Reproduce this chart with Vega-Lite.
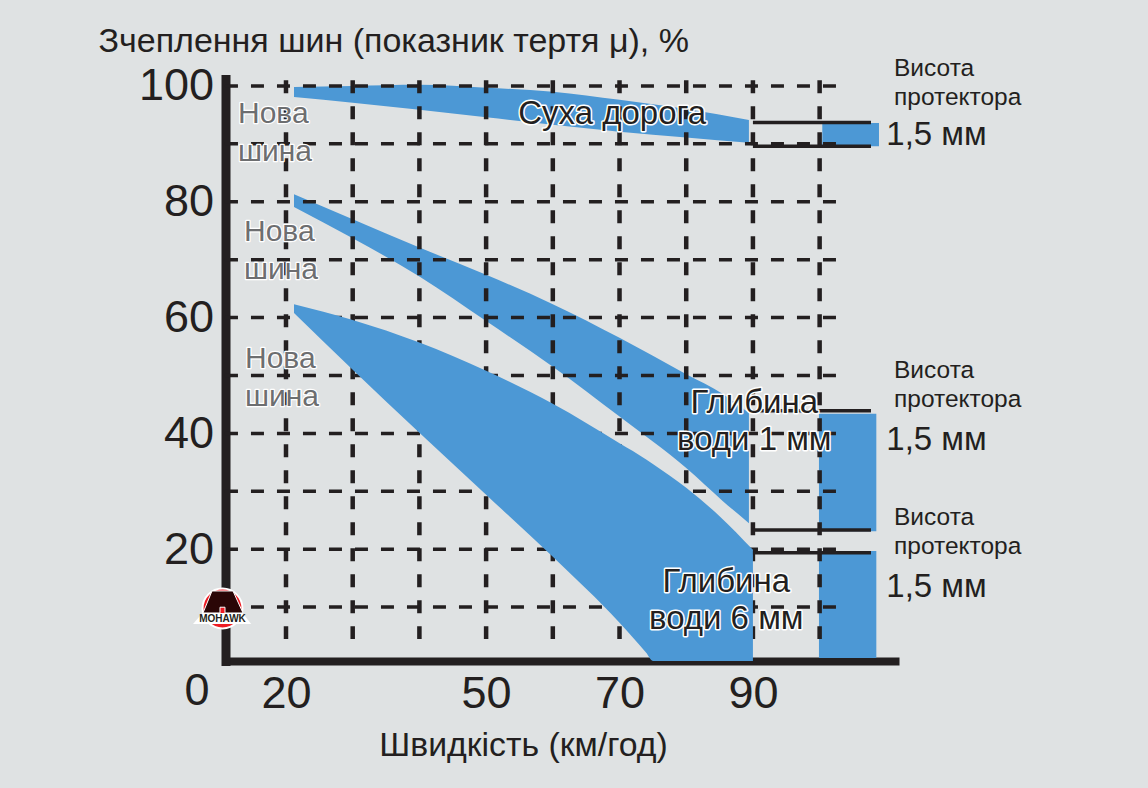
{
  "$schema": "https://vega.github.io/schema/vega-lite/v6.json",
  "width": 669.5,
  "height": 582,
  "autosize": "none",
  "padding": {"left": 225.5, "top": 79, "right": 253, "bottom": 127},
  "background": "#dfe2e3",
  "config": {
    "view": {"stroke": null},
    "font": "Liberation Sans",
    "text": {"font": "Liberation Sans"}
  },
  "datasets": {
    "bandTop": [
      {"speed": 21.2, "grip": 99.8, "gripLow": 98.1},
      {"speed": 30, "grip": 100, "gripLow": 97.1},
      {"speed": 40, "grip": 100.2, "gripLow": 95.9},
      {"speed": 50, "grip": 99.7, "gripLow": 94.6},
      {"speed": 60, "grip": 99, "gripLow": 93.3},
      {"speed": 70, "grip": 97.6, "gripLow": 92.1},
      {"speed": 80, "grip": 96, "gripLow": 91.1},
      {"speed": 89.4, "grip": 94.1, "gripLow": 90.2}
    ],
    "bandMid": [
      {"speed": 21.2, "grip": 81.3, "gripLow": 79.1},
      {"speed": 30, "grip": 77, "gripLow": 73.7},
      {"speed": 40, "grip": 72.1, "gripLow": 67.1},
      {"speed": 50, "grip": 67.4, "gripLow": 59.4},
      {"speed": 60, "grip": 62.3, "gripLow": 51.5},
      {"speed": 70, "grip": 56.5, "gripLow": 42.9},
      {"speed": 80, "grip": 50.2, "gripLow": 34},
      {"speed": 85.5, "grip": 46.8, "gripLow": 28.3},
      {"speed": 89.4, "grip": 43.5, "gripLow": 24.5}
    ],
    "bandLow": [
      {"speed": 21.2, "grip": 62.3, "gripLow": 60.8},
      {"speed": 30, "grip": 59.6, "gripLow": 51},
      {"speed": 40, "grip": 55.7, "gripLow": 40.1},
      {"speed": 50, "grip": 50.8, "gripLow": 29.4},
      {"speed": 60, "grip": 45.1, "gripLow": 18.7},
      {"speed": 70, "grip": 38.3, "gripLow": 7.3},
      {"speed": 74, "grip": 35.5, "gripLow": 2.1},
      {"speed": 75, "grip": 34.7, "gripLow": 0.7},
      {"speed": 80, "grip": 30.6, "gripLow": 0.7},
      {"speed": 85, "grip": 25.7, "gripLow": 0.7},
      {"speed": 90, "grip": 19.9, "gripLow": 0.7}
    ],
    "treadBars": [
      {"speed": 100.4, "speedEnd": 108.9, "grip": 93.6, "gripLow": 89.6},
      {"speed": 99.9, "speedEnd": 108.5, "grip": 43.4, "gripLow": 23.1},
      {"speed": 99.9, "speedEnd": 108.5, "grip": 19.7, "gripLow": 1.2}
    ],
    "gridV": [
      {"speed": 20, "grip": 101, "gripLow": 4.5},
      {"speed": 30, "grip": 101, "gripLow": 4.5},
      {"speed": 40, "grip": 101, "gripLow": 4.5},
      {"speed": 50, "grip": 101, "gripLow": 4.5},
      {"speed": 60, "grip": 101, "gripLow": 4.5},
      {"speed": 70, "grip": 101, "gripLow": 4.5},
      {"speed": 80, "grip": 101, "gripLow": 4.5},
      {"speed": 90, "grip": 101, "gripLow": 4.5},
      {"speed": 100, "grip": 101, "gripLow": 4.5}
    ],
    "gridH": [
      {"grip": 100, "speed": 10.85, "speedEnd": 102.5},
      {"grip": 90, "speed": 10.85, "speedEnd": 102.5},
      {"grip": 80, "speed": 10.85, "speedEnd": 102.5},
      {"grip": 70, "speed": 10.85, "speedEnd": 102.5},
      {"grip": 60, "speed": 10.85, "speedEnd": 102.5},
      {"grip": 50, "speed": 10.85, "speedEnd": 102.5},
      {"grip": 40, "speed": 10.85, "speedEnd": 102.5},
      {"grip": 30, "speed": 10.85, "speedEnd": 102.5},
      {"grip": 20, "speed": 10.85, "speedEnd": 102.5},
      {"grip": 10, "speed": 10.85, "speedEnd": 102.5}
    ],
    "treadRules": [
      {"grip": 93.7, "speed": 90, "speedEnd": 107.7},
      {"grip": 89.6, "speed": 90, "speedEnd": 107.7},
      {"grip": 43.9, "speed": 90, "speedEnd": 107.7},
      {"grip": 23.3, "speed": 90, "speedEnd": 107.7},
      {"grip": 19.4, "speed": 90, "speedEnd": 107.7}
    ],
    "newTyre": [
      {"speed": 12.8, "grip": 95.1, "label": "Нова"},
      {"speed": 12.8, "grip": 88.6, "label": "шина"},
      {"speed": 13.7, "grip": 74.8, "label": "Нова"},
      {"speed": 13.7, "grip": 68.2, "label": "шина"},
      {"speed": 13.85, "grip": 52.8, "label": "Нова"},
      {"speed": 13.85, "grip": 46.3, "label": "шина"}
    ],
    "conditions": [
      {"speed": 68.9, "grip": 95.1, "label": "Суха дорога"},
      {"speed": 90.2, "grip": 45.2, "label": "Глибина"},
      {"speed": 90.2, "grip": 38.8, "label": "води 1 мм"},
      {"speed": 86, "grip": 14.3, "label": "Глибина"},
      {"speed": 86, "grip": 7.9, "label": "води 6 мм"}
    ],
    "treadCaption": [
      {"speed": 111.15, "grip": 103, "label": "Висота"},
      {"speed": 111.15, "grip": 98, "label": "протектора"},
      {"speed": 111.15, "grip": 50.7, "label": "Висота"},
      {"speed": 111.15, "grip": 45.7, "label": "протектора"},
      {"speed": 111.15, "grip": 25.3, "label": "Висота"},
      {"speed": 111.15, "grip": 20.3, "label": "протектора"}
    ],
    "treadValue": [
      {"speed": 110, "grip": 91.5, "label": "1,5 мм"},
      {"speed": 110, "grip": 38.8, "label": "1,5 мм"},
      {"speed": 110, "grip": 13.4, "label": "1,5 мм"}
    ],
    "zero": [{"speed": 6.66, "grip": -4.5, "label": "0"}],
    "logo": [{"speed": 10.48, "grip": 9.76}],
    "logoText": [{"speed": 10.48, "grip": 7.9, "label": "MOHAWK"}]
  },
  "encoding": {
    "x": {
      "field": "speed",
      "type": "quantitative",
      "scale": {"domain": [10.93, 111.3], "nice": false, "zero": false},
      "axis": {
        "values": [20, 50, 70, 90],
        "title": "Швидкість (км/год)",
        "titleFont": "Liberation Sans",
        "titleFontSize": 33.8,
        "titleFontWeight": "normal",
        "titleColor": "#231f20",
        "titleX": 297.5,
        "titleY": 84,
        "titleBaseline": "middle",
        "titleAnchor": null,
        "labelFont": "Liberation Sans",
        "labelFontSize": 45,
        "labelColor": "#231f20",
        "labelPadding": 10,
        "labelFlush": false,
        "labelOverlap": false,
        "labelBound": false,
        "ticks": false,
        "grid": false,
        "domainColor": "#231f20",
        "domainWidth": 8,
        "domainCap": "square"
      }
    },
    "y": {
      "field": "grip",
      "type": "quantitative",
      "scale": {"domain": [0.69, 101.2], "nice": false, "zero": false},
      "axis": {
        "values": [20, 40, 60, 80, 100],
        "title": "Зчеплення шин (показник тертя μ), %",
        "titleFont": "Liberation Sans",
        "titleFontSize": 34,
        "titleFontWeight": "normal",
        "titleColor": "#231f20",
        "titleAngle": 0,
        "titleAlign": "left",
        "titleBaseline": "alphabetic",
        "titleAnchor": null,
        "titleX": -127.5,
        "titleY": -28,
        "labelFont": "Liberation Sans",
        "labelFontSize": 45,
        "labelColor": "#231f20",
        "labelPadding": 12,
        "labelFlush": false,
        "labelOverlap": false,
        "labelBound": false,
        "ticks": false,
        "grid": false,
        "domainColor": "#231f20",
        "domainWidth": 9,
        "domainCap": "square"
      }
    }
  },
  "layer": [
    {
      "data": {"name": "bandTop"},
      "mark": {"type": "area", "color": "#4c98d5", "interpolate": "monotone"},
      "encoding": {"y2": {"field": "gripLow"}}
    },
    {
      "data": {"name": "bandMid"},
      "mark": {"type": "area", "color": "#4c98d5", "interpolate": "monotone"},
      "encoding": {"y2": {"field": "gripLow"}}
    },
    {
      "data": {"name": "treadBars"},
      "mark": {"type": "rect", "color": "#4c98d5"},
      "encoding": {"x2": {"field": "speedEnd"}, "y2": {"field": "gripLow"}}
    },
    {
      "data": {"name": "gridV"},
      "mark": {"type": "rule", "color": "#231f20", "strokeWidth": 4.5, "strokeDash": [13, 13]},
      "encoding": {"y2": {"field": "gripLow"}}
    },
    {
      "data": {"name": "gridH"},
      "mark": {"type": "rule", "color": "#231f20", "strokeWidth": 3.5, "strokeDash": [13, 13]},
      "encoding": {"x2": {"field": "speedEnd"}}
    },
    {
      "data": {"name": "bandLow"},
      "mark": {"type": "area", "color": "#4c98d5", "interpolate": "monotone"},
      "encoding": {"y2": {"field": "gripLow"}}
    },
    {
      "data": {"name": "treadRules"},
      "mark": {"type": "rule", "color": "#231f20", "strokeWidth": 3.5},
      "encoding": {"x2": {"field": "speedEnd"}}
    },
    {
      "data": {"name": "newTyre"},
      "mark": {"type": "text", "align": "left", "baseline": "middle", "fontSize": 30, "stroke": "white", "strokeWidth": 2.5, "strokeJoin": "round", "fill": "white"},
      "encoding": {"text": {"field": "label"}}
    },
    {
      "data": {"name": "newTyre"},
      "mark": {"type": "text", "align": "left", "baseline": "middle", "fontSize": 30, "fill": "#6d6e70"},
      "encoding": {"text": {"field": "label"}}
    },
    {
      "data": {"name": "conditions"},
      "mark": {"type": "text", "align": "center", "baseline": "middle", "fontSize": 33, "stroke": "white", "strokeWidth": 3, "strokeJoin": "round", "fill": "white"},
      "encoding": {"text": {"field": "label"}}
    },
    {
      "data": {"name": "conditions"},
      "mark": {"type": "text", "align": "center", "baseline": "middle", "fontSize": 33, "fill": "#231f20"},
      "encoding": {"text": {"field": "label"}}
    },
    {
      "data": {"name": "treadCaption"},
      "mark": {"type": "text", "align": "left", "baseline": "middle", "fontSize": 24.5, "fill": "#231f20"},
      "encoding": {"text": {"field": "label"}}
    },
    {
      "data": {"name": "treadValue"},
      "mark": {"type": "text", "align": "left", "baseline": "middle", "fontSize": 33, "fill": "#231f20"},
      "encoding": {"text": {"field": "label"}}
    },
    {
      "data": {"name": "zero"},
      "mark": {"type": "text", "align": "center", "baseline": "middle", "fontSize": 45, "fill": "#231f20"},
      "encoding": {"text": {"field": "label"}}
    },
    {
      "data": {"name": "logo"},
      "mark": {"type": "point", "shape": "circle", "filled": true, "fill": "#ed1c24", "stroke": "white", "strokeWidth": 2, "opacity": 1, "size": 1590}
    },
    {
      "data": {"name": "logo"},
      "mark": {"type": "point", "filled": true, "fill": "white", "strokeWidth": 0, "opacity": 1, "size": 2500, "shape": "M-0.8,0.18 L0.8,0.18 L1.15,0.62 L-1.18,0.62 Z"}
    },
    {
      "data": {"name": "logo"},
      "mark": {"type": "point", "filled": true, "fill": "#2a0606", "stroke": "white", "strokeWidth": 1, "opacity": 1, "size": 2500, "shape": "M-0.42,-0.7 L0.42,-0.7 L0.82,0.18 L0.1,0.18 L0.1,-0.05 L-0.1,-0.05 L-0.1,0.18 L-0.78,0.18 Z"}
    },
    {
      "data": {"name": "logoText"},
      "mark": {"type": "text", "align": "center", "baseline": "middle", "fontSize": 10, "fontWeight": "bold", "fill": "#231f20"},
      "encoding": {"text": {"field": "label"}}
    }
  ]
}
